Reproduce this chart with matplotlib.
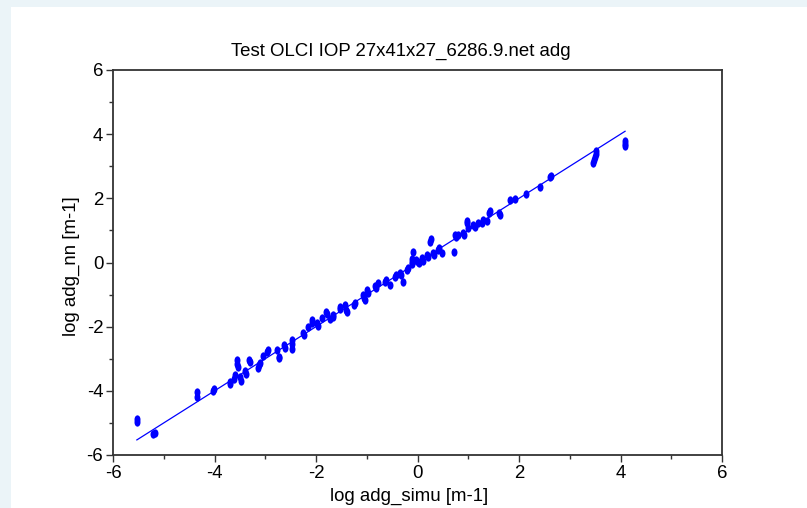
import matplotlib
matplotlib.use('Agg')
import matplotlib.pyplot as plt
from matplotlib.path import Path
from matplotlib.patches import Rectangle
from matplotlib.ticker import MultipleLocator
import numpy as np

plt.rcParams['font.family'] = ['Liberation Sans', 'DejaVu Sans']
plt.rcParams['axes.unicode_minus'] = False

# log adg: simulated vs network output
adg_simu = [-5.53, -5.53, -5.21, -5.17, -4.34, -4.34, -4.02, -4.01, -3.70, -3.69,
            -3.60, -3.62, -3.55, -3.55, -3.54, -3.50, -3.48, -3.40, -3.38, -3.33,
            -3.30, -3.14, -3.12, -3.10, -3.04, -2.96, -2.94, -2.77, -2.73, -2.72,
            -2.64, -2.62, -2.48, -2.48, -2.47, -2.25, -2.24, -2.15, -2.08, -2.07,
            -1.99, -1.97, -1.89, -1.80, -1.78, -1.72, -1.67, -1.66, -1.53, -1.52,
            -1.43, -1.40, -1.39, -1.26, -1.24, -1.07, -1.05, -1.03, -1.00, -0.98,
            -0.84, -0.82, -0.77, -0.64, -0.62, -0.54, -0.44, -0.42, -0.34, -0.32,
            -0.28, -0.21, -0.19, -0.11, -0.11, -0.10, -0.09, -0.02, 0.00, 0.03,
            0.08, 0.10, 0.18, 0.20, 0.25, 0.26, 0.31, 0.33, 0.41, 0.42,
            0.48, 0.71, 0.74, 0.76, 0.80, 0.90, 0.92, 0.97, 0.98, 1.00,
            1.10, 1.13, 1.20, 1.27, 1.30, 1.36, 1.40, 1.43, 1.61, 1.62,
            1.82, 1.92, 2.14, 2.41, 2.62, 2.63, 3.46, 3.48, 3.50, 3.51,
            3.52, 4.09, 4.09, 4.09]
adg_nn = [-4.97, -4.88, -5.35, -5.30, -4.20, -4.05, -4.02, -3.94, -3.80, -3.72,
          -3.52, -3.62, -3.05, -3.15, -3.25, -3.58, -3.70, -3.38, -3.48, -3.04,
          -3.10, -3.30, -3.20, -3.12, -2.90, -2.78, -2.72, -2.74, -2.93, -2.98,
          -2.58, -2.66, -2.40, -2.55, -2.70, -2.21, -2.27, -2.02, -1.80, -1.90,
          -1.90, -1.98, -1.74, -1.53, -1.60, -1.76, -1.64, -1.70, -1.38, -1.45,
          -1.32, -1.48, -1.55, -1.32, -1.26, -1.02, -1.10, -1.18, -0.86, -0.94,
          -0.72, -0.78, -0.65, -0.60, -0.55, -0.70, -0.44, -0.40, -0.34, -0.38,
          -0.60, -0.23, -0.18, 0.03, -0.05, 0.12, 0.34, 0.08, 0.02, -0.02,
          0.13, 0.05, 0.23, 0.18, 0.65, 0.74, 0.29, 0.22, 0.39, 0.45,
          0.29, 0.34, 0.86, 0.80, 0.86, 0.91, 0.85, 1.22, 1.30, 1.08,
          1.17, 1.12, 1.22, 1.22, 1.33, 1.30, 1.53, 1.59, 1.53, 1.48,
          1.95, 1.98, 2.15, 2.36, 2.66, 2.70, 3.10, 3.18, 3.30, 3.38,
          3.46, 3.62, 3.70, 3.78]
ticks = [-6, -4, -2, 0, 2, 4, 6]

fig = plt.figure(figsize=(8.07, 5.08), dpi=100, facecolor='#ebf4f8')
fig.patches.append(Rectangle((11 / 807, 0), 1, 1 - 7 / 508, transform=fig.transFigure,
                             facecolor='white', edgecolor='none', zorder=-10))
ax = fig.add_axes([113 / 807, 1 - 455 / 508, 609 / 807, 385 / 508])

# vertically stretched dot marker
circ = Path.unit_circle()
dot = Path(circ.vertices * np.array([0.72, 1.0]), circ.codes)

ax.plot(adg_simu, adg_nn, linestyle='none', marker=dot, markersize=6,
        color='#0000ff', markeredgewidth=0)
x0, x1 = min(adg_simu), max(adg_simu)
ax.plot([x0, x1], [x0, x1], color='#0000ff', lw=0.9)

ax.set_xlim(-6, 6)
ax.set_ylim(-6, 6)
ax.set_xticks(ticks)
ax.set_yticks(ticks)
ax.xaxis.set_minor_locator(MultipleLocator(1))
ax.yaxis.set_minor_locator(MultipleLocator(1))
ax.tick_params(which='major', length=5, width=1, labelsize=13.4, pad=2, color='#333333')
ax.tick_params(which='minor', length=3, width=1, color='#333333')
for s in ax.spines.values():
    s.set_linewidth(1.3)
    s.set_color('#333333')

ax.set_title('Test OLCI IOP 27x41x27_6286.9.net adg', fontsize=13.4, pad=10,
             x=(400.5 - 113) / 609)
ax.set_xlabel('log adg_simu [m-1]', fontsize=13.4)
ax.set_ylabel('log adg_nn [m-1]', fontsize=13.4)
ax.xaxis.set_label_coords((409 - 113) / 609, -0.086)
ax.yaxis.set_label_coords(-0.055, 0.49)

fig.savefig('out.png', dpi=100, facecolor=fig.get_facecolor())
